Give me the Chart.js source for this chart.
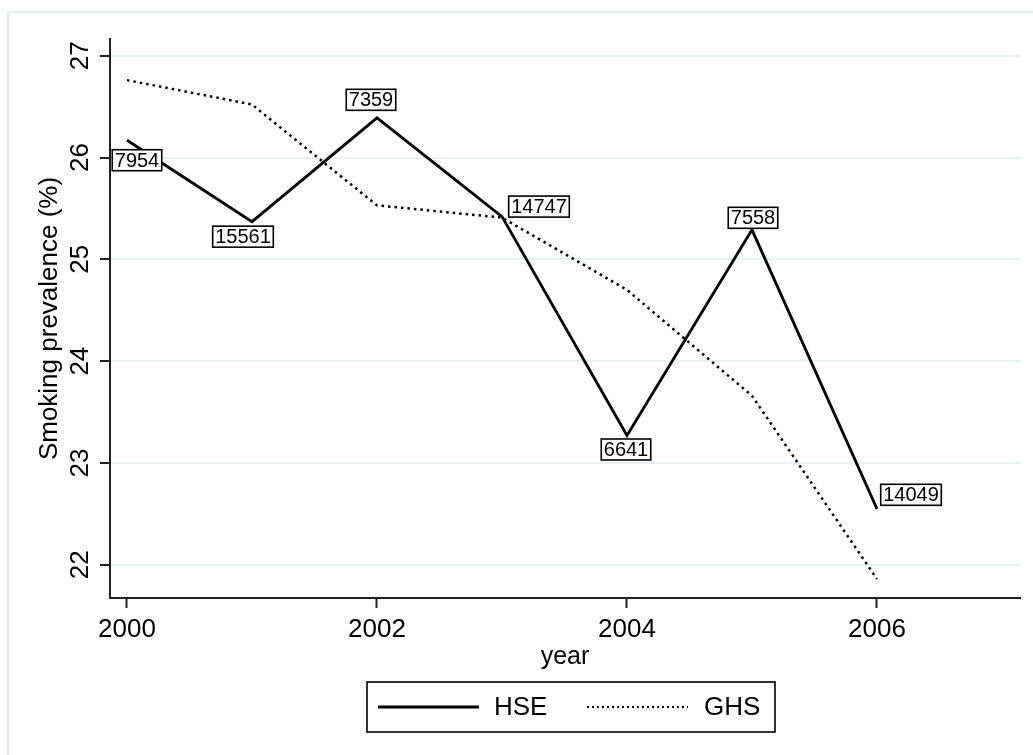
<!DOCTYPE html>
<html><head><meta charset="utf-8">
<script src="https://cdn.jsdelivr.net/npm/chart.js@4.4.1/dist/chart.umd.min.js"></script>
<style>html,body{margin:0;padding:0;background:#fff;}#wrap{width:1033px;height:755px;position:relative;}</style>
</head><body><div id="wrap"><canvas id="c" width="1033" height="755"></canvas></div>
<script>
const years = [2000, 2001, 2002, 2003, 2004, 2005, 2006];
const hse = [26.17, 25.37, 26.39, 25.42, 23.27, 25.29, 22.55];
const ghs = [26.76, 26.52, 25.53, 25.41, 24.70, 23.66, 21.86];
const sampleSizes = [7954, 15561, 7359, 14747, 6641, 7558, 14049];
const xTicks = [2000, 2002, 2004, 2006];
const yTicks = [22, 23, 24, 25, 26, 27];
const seriesNames = ['HSE', 'GHS'];
const xTitle = 'year';
const yTitle = 'Smoking prevalence (%)';

const FAM = '"Liberation Sans", Arial, sans-serif';
const INK = '#000';

const framePlugin = {
  id: 'frame',
  beforeDraw(chart) {
    const c = chart.ctx;
    c.save();
    c.fillStyle = '#fff';
    c.fillRect(0, 0, chart.width, chart.height);
    c.strokeStyle = '#e4ecef';
    c.lineWidth = 2;
    c.strokeRect(8, 12, chart.width + 20, chart.height + 20);
    c.restore();
  }
};

const labelPlugin = {
  id: 'ptLabels',
  afterDatasetsDraw(chart, args, opts) {
    const c = chart.ctx;
    const meta = chart.getDatasetMeta(0);
    c.save();
    c.font = '20px ' + FAM;
    c.textAlign = 'center';
    c.textBaseline = 'middle';
    meta.data.forEach((pt, i) => {
      const txt = String(sampleSizes[i]);
      const off = opts.offsets[i];
      const cx = pt.x + off[0], cy = pt.y + off[1];
      const w = c.measureText(txt).width + 5, h = 21;
      c.fillStyle = '#fff';
      c.fillRect(cx - w / 2, cy - h / 2, w, h);
      c.strokeStyle = INK;
      c.lineWidth = 1.6;
      c.strokeRect(cx - w / 2, cy - h / 2, w, h);
      c.fillStyle = INK;
      c.fillText(txt, cx, cy + 1);
    });
    c.restore();
  }
};

const legendPlugin = {
  id: 'boxLegend',
  afterDraw(chart) {
    const c = chart.ctx;
    const ds = chart.data.datasets;
    c.save();
    c.strokeStyle = INK;
    c.lineWidth = 1.6;
    c.strokeRect(367, 682, 408, 50);
    const items = [{x: 378, tx: 494}, {x: 587, tx: 704}];
    const yc = 707;
    items.forEach((it, i) => {
      c.beginPath();
      c.strokeStyle = ds[i].borderColor;
      c.lineWidth = i === 1 ? 2 : ds[i].borderWidth;
      c.setLineDash(i === 1 ? [2, 3] : []);
      c.moveTo(it.x, yc);
      c.lineTo(it.x + 101, yc);
      c.stroke();
      c.setLineDash([]);
      c.fillStyle = INK;
      c.font = '26px ' + FAM;
      c.textAlign = 'left';
      c.textBaseline = 'middle';
      c.fillText(ds[i].label, it.tx, yc + 1);
    });
    c.restore();
  }
};

new Chart(document.getElementById('c'), {
  type: 'line',
  data: {
    datasets: [
      {label: seriesNames[0], data: years.map((x, i) => ({x, y: hse[i]})), borderColor: INK, borderWidth: 2.8, pointRadius: 0, tension: 0, fill: false},
      {label: seriesNames[1], data: years.map((x, i) => ({x, y: ghs[i]})), borderColor: INK, borderWidth: 2.5, borderDash: [2.5, 4], pointRadius: 0, tension: 0, fill: false}
    ]
  },
  options: {
    responsive: false,
    animation: false,
    devicePixelRatio: 1,
    layout: {padding: {top: 39, right: 13, bottom: 0, left: 0}},
    plugins: {
      legend: {display: false},
      tooltip: {enabled: false},
      ptLabels: {offsets: [[10, 20], [-9, 15], [-6, -18], [37, -10], [-1, 14], [1, -12], [34, -14]]}
    },
    scales: {
      x: {
        type: 'linear', min: 1999.864, max: 2007.144,
        afterBuildTicks: s => { s.ticks = xTicks.map(v => ({value: v})); },
        afterFit: s => { s.height = 157; },
        ticks: {callback: v => String(v), font: {size: 26, family: FAM}, color: INK, padding: 6, maxRotation: 0, autoSkip: false},
        grid: {drawOnChartArea: false, drawTicks: true, tickLength: 10, tickColor: '#222', tickWidth: 2},
        border: {display: true, color: '#222', width: 2},
        title: {display: true, text: xTitle, font: {size: 25, family: FAM}, color: INK, padding: {top: 0, bottom: 83}}
      },
      y: {
        type: 'linear', min: 21.674, max: 27.164,
        afterBuildTicks: s => { s.ticks = yTicks.map(v => ({value: v})); },
        afterFit: s => { s.width = 110; },
        ticks: {callback: v => String(v), font: {size: 26, family: FAM}, color: INK, padding: 4.5, minRotation: 90, maxRotation: 90, crossAlign: 'center', autoSkip: false},
        grid: {color: '#e9f1f3', lineWidth: 2, drawTicks: true, tickLength: 10, tickColor: '#222', tickWidth: 2},
        border: {display: true, color: '#222', width: 2},
        title: {display: true, text: yTitle, font: {size: 26, family: FAM}, color: INK, padding: {top: 34.5, bottom: 0}}
      }
    }
  },
  plugins: [framePlugin, labelPlugin, legendPlugin]
});
</script></body></html>
